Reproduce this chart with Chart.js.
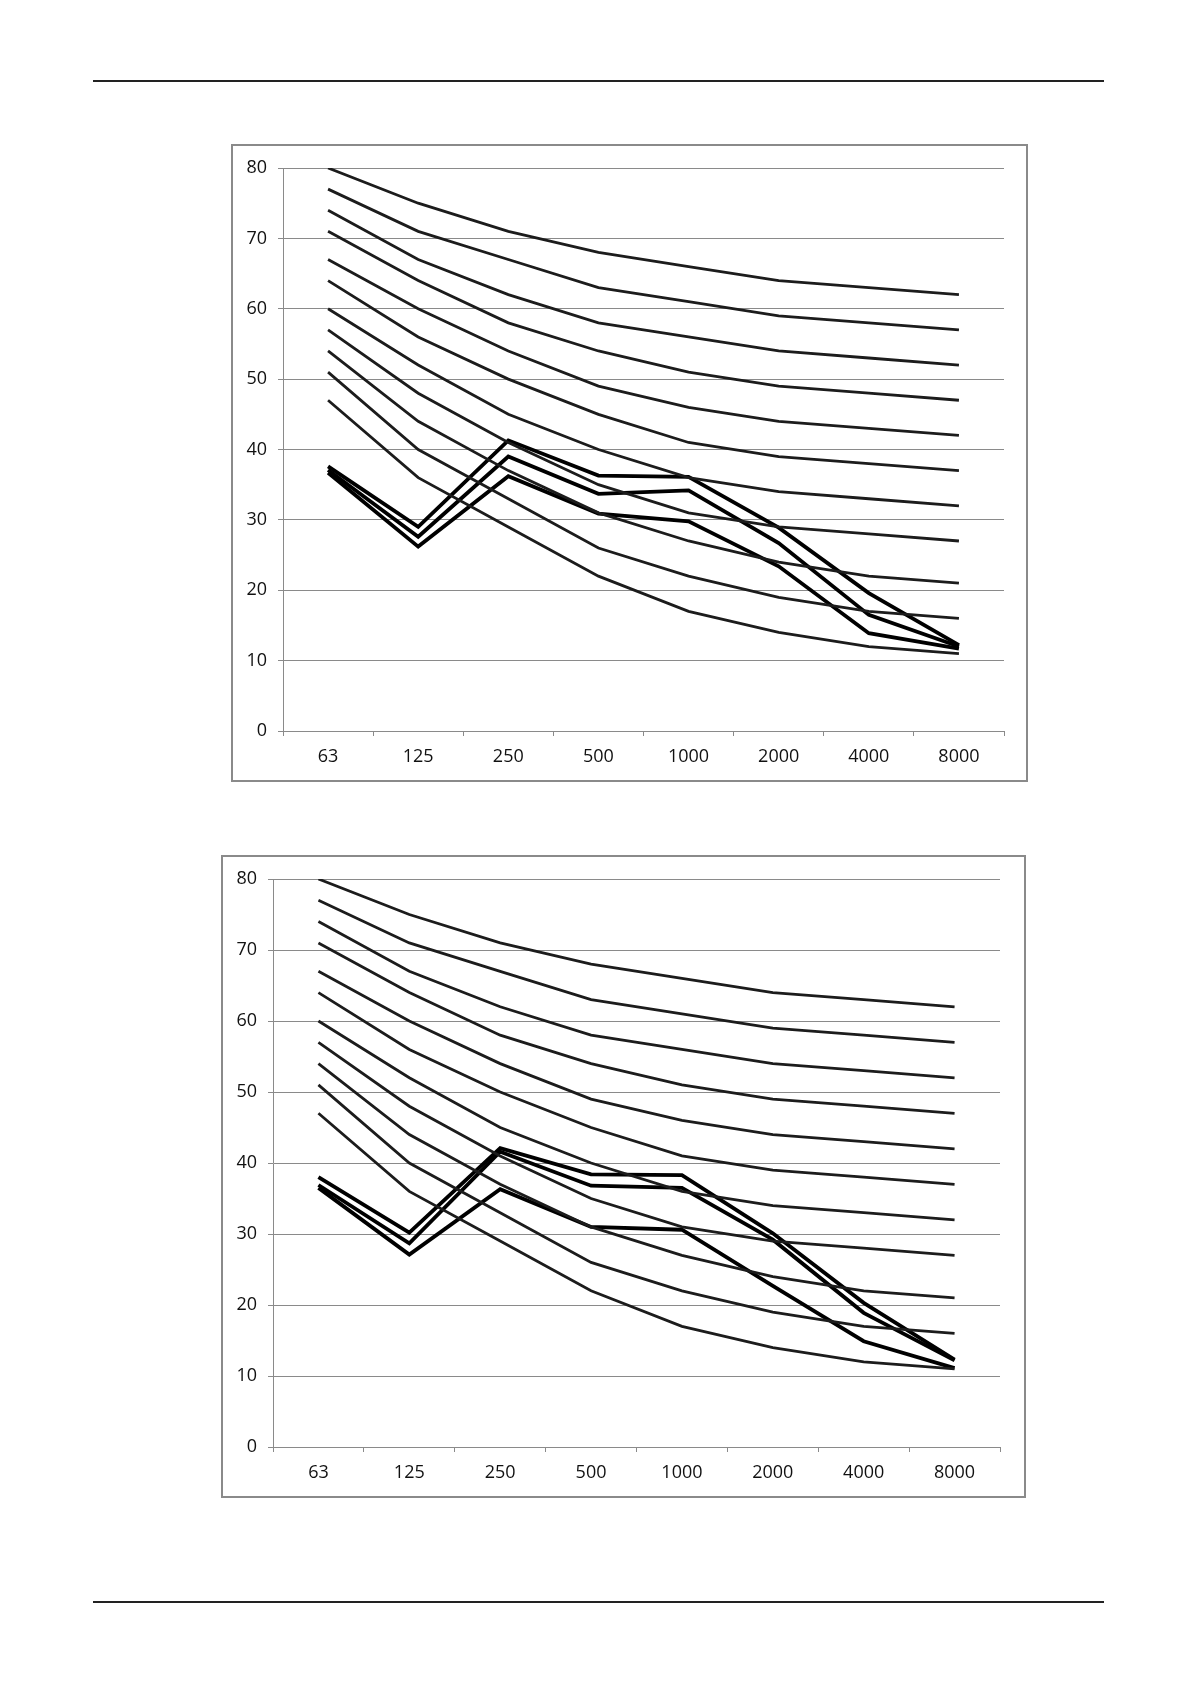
<!DOCTYPE html>
<html>
<head>
<meta charset="utf-8">
<script src="https://cdn.jsdelivr.net/npm/chart.js@4.4.0/dist/chart.umd.min.js"></script>
<style>
  html, body { margin: 0; padding: 0; background: #fff; }
  body { width: 1191px; height: 1684px; position: relative; }
  .rule { position: absolute; left: 93px; width: 1011px; height: 0; border-top: 2px solid #222; }
  .box { position: absolute; box-sizing: border-box; border: 2px solid #8a8a8a; background: #fff; }
  canvas { display: block; }
</style>
</head>
<body>
<div class="rule" style="top:80px"></div>
<div class="box" style="left:231px; top:144px; width:797px; height:638px;">
  <canvas id="chart1" width="793" height="634"></canvas>
</div>
<div class="box" style="left:221px; top:855px; width:805px; height:643px;">
  <canvas id="chart2" width="801" height="639"></canvas>
</div>
<div class="rule" style="top:1601px"></div>

<script>
// --- Data ---
const bands = ["63", "125", "250", "500", "1000", "2000", "4000", "8000"];

// NC rating curves (same in both charts)
const nc65 = [80, 75, 71, 68, 66, 64, 63, 62];
const nc60 = [77, 71, 67, 63, 61, 59, 58, 57];
const nc55 = [74, 67, 62, 58, 56, 54, 53, 52];
const nc50 = [71, 64, 58, 54, 51, 49, 48, 47];
const nc45 = [67, 60, 54, 49, 46, 44, 43, 42];
const nc40 = [64, 56, 50, 45, 41, 39, 38, 37];
const nc35 = [60, 52, 45, 40, 36, 34, 33, 32];
const nc30 = [57, 48, 41, 35, 31, 29, 28, 27];
const nc25 = [54, 44, 37, 31, 27, 24, 22, 21];
const nc20 = [51, 40, 33, 26, 22, 19, 17, 16];
const nc15 = [47, 36, 29, 22, 17, 14, 12, 11];
const ncCurves = [nc65, nc60, nc55, nc50, nc45, nc40, nc35, nc30, nc25, nc20, nc15];

// measured spectra, chart 1
const top1 = [37.6, 29.0, 41.3, 36.3, 36.1, 28.9, 19.6, 12.2];
const mid1 = [37.1, 27.6, 39.0, 33.7, 34.2, 26.7, 16.5, 12.0];
const low1 = [36.7, 26.2, 36.2, 30.9, 29.8, 23.4, 13.9, 11.7];

// measured spectra, chart 2
const top2 = [38.0, 30.2, 42.1, 38.4, 38.3, 30.1, 20.3, 12.3];
const mid2 = [36.9, 28.7, 41.6, 36.8, 36.5, 29.2, 18.9, 12.2];
const low2 = [36.5, 27.1, 36.3, 31.0, 30.6, 22.7, 14.9, 11.1];

const yTicks = { min: 0, max: 80, step: 10 };

Chart.defaults.font.family = "'Open Sans', sans-serif";
Chart.defaults.font.size = 18;
Chart.defaults.color = '#111';

function makeChart(id, measured, padRight) {
    const datasets = ncCurves.map(d => ({
        data: d,
        borderColor: '#1c1c1c',
        borderWidth: 2.8,
        pointRadius: 0,
        tension: 0
    }));
    measured.forEach(d => datasets.push({
        data: d,
        borderColor: '#000',
        borderWidth: 3.8,
        pointRadius: 0,
        tension: 0
    }));

    return new Chart(document.getElementById(id), {
        type: 'line',
        data: { labels: bands, datasets: datasets },
        options: {
            responsive: false,
            animation: false,
            layout: { padding: { top: 22, right: padRight, bottom: 0, left: 0 } },
            plugins: { legend: { display: false }, tooltip: { enabled: false } },
            scales: {
                x: {
                    offset: true,
                    grid: { offset: true, drawOnChartArea: false, drawTicks: true, tickLength: 5, color: '#8a8a8a' },
                    border: { display: true, color: '#8a8a8a' },
                    ticks: { padding: 10, maxRotation: 0 },
                    afterFit: s => { s.height = 49; }
                },
                y: {
                    min: yTicks.min,
                    max: yTicks.max,
                    ticks: { stepSize: yTicks.step, padding: 11 },
                    grid: { drawTicks: true, tickLength: 5, color: '#8a8a8a' },
                    border: { display: true, color: '#8a8a8a' },
                    afterFit: s => { s.width = 50; }
                }
            }
        }
    });
}

makeChart('chart1', [top1, mid1, low1], 22);
makeChart('chart2', [top2, mid2, low2], 24);
</script>
</body>
</html>
